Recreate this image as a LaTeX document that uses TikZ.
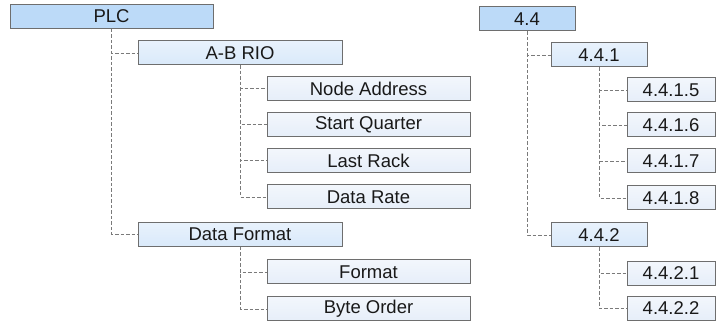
\documentclass[tikz,border=0pt]{standalone}
\usepackage{fontspec}
\setmainfont{Liberation Sans}
\usepackage{xcolor}
\usepackage{tikz}
\usetikzlibrary{calc}
\definecolor{boxline}{HTML}{6E6E6E}
\definecolor{linkgray}{HTML}{7A7A7A}
\definecolor{topblue}{HTML}{BCDAF8}
\definecolor{midblue}{HTML}{D9E9FA}
\definecolor{leafblue}{HTML}{E6EEF9}
\tikzset{
  menubox/.style={draw=boxline, line width=1pt, inner sep=0pt, align=center,
                  minimum height=24pt, font=\fontsize{18.5}{20}\selectfont, text=black!90},
  topbox/.style={menubox, fill=topblue},
  midbox/.style={menubox, top color=midblue!60!white, bottom color=midblue},
  leafbox/.style={menubox, top color=leafblue!50!white, bottom color=leafblue},
  link/.style={draw=linkgray, line width=0.8pt, dash pattern=on 3.5pt off 2pt},
}

\begin{document}
\begin{tikzpicture}[x=1pt, y=-1pt]
    \useasboundingbox (0,0) rectangle (716,326);
    % PLC menu
    \node[topbox, minimum width=203pt] (plc) at (111.5,16.5) {PLC};
    \node[midbox, minimum width=204pt] (abrio) at (240,53) {A-B RIO};
    \node[leafbox, minimum width=203pt] (nodeaddr) at (368.5,88.5) {Node Address};
    \node[leafbox, minimum width=203pt] (startq) at (368.5,124.5) {Start Quarter};
    \node[leafbox, minimum width=203pt] (lastrack) at (368.5,160.5) {Last Rack};
    \node[leafbox, minimum width=203pt] (datarate) at (368.5,197) {Data Rate};
    \node[midbox, minimum width=204pt] (datafmt) at (240,234.5) {Data Format};
    \node[leafbox, minimum width=203pt] (format) at (368.5,272) {Format};
    \node[leafbox, minimum width=203pt] (byteord) at (368.5,309) {Byte Order};
    \draw[link] (plc.south) |- (abrio.west);
    \draw[link] (plc.south) |- (datafmt.west);
    \foreach \leaf in {nodeaddr,startq,lastrack,datarate}
      \draw[link] (abrio.south) |- (\leaf.west);
    \foreach \leaf in {format,byteord}
      \draw[link] (datafmt.south) |- (\leaf.west);

    % 4.4 section numbers
    \node[topbox, minimum width=96pt] (s44) at (527,19) {4.4};
    \node[midbox, minimum width=96pt] (s441) at (599,55) {4.4.1};
    \node[leafbox, minimum width=88pt] (s4415) at (671,90) {4.4.1.5};
    \node[leafbox, minimum width=88pt] (s4416) at (671,125) {4.4.1.6};
    \node[leafbox, minimum width=88pt] (s4417) at (671,161) {4.4.1.7};
    \node[leafbox, minimum width=88pt] (s4418) at (671,198) {4.4.1.8};
    \node[midbox, minimum width=96pt] (s442) at (599,235) {4.4.2};
    \node[leafbox, minimum width=88pt] (s4421) at (671,273.5) {4.4.2.1};
    \node[leafbox, minimum width=88pt] (s4422) at (671,308.5) {4.4.2.2};
    \draw[link] (s44.south) |- (s441.west);
    \draw[link] (s44.south) |- (s442.west);
    \foreach \leaf in {s4415,s4416,s4417,s4418}
      \draw[link] (s441.south) |- (\leaf.west);
    \foreach \leaf in {s4421,s4422}
      \draw[link] (s442.south) |- (\leaf.west);
\end{tikzpicture}
\end{document}
